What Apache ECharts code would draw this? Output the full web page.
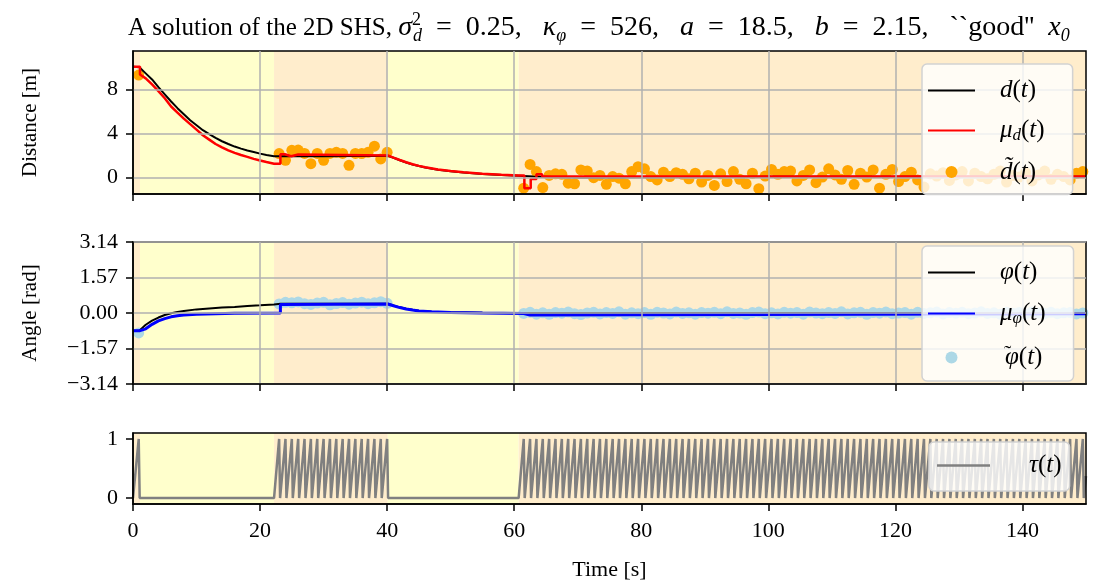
<!DOCTYPE html>
<html><head><meta charset="utf-8">
<script src="https://cdn.jsdelivr.net/npm/echarts@6/dist/echarts.min.js"></script>
<style>html,body{margin:0;padding:0;background:#fff}#c{width:1094px;height:585px}</style>
</head><body><div id="c"></div>
<script>
// ---------------- data ----------------
const xTicks = [0, 20, 40, 60, 80, 100, 120, 140];
const dTicks = [0, 4, 8];
const phiTicks = [-3.14, -1.57, 0, 1.57, 3.14];
const tauTicks = [0, 1];

// background phases: boundaries and kind (o = orange, y = yellow)
const phaseBounds = [0, 1.1, 22.2, 40.1, 60.7, 150];
const phaseKinds = ['o', 'y', 'o', 'y', 'o'];

// true distance d(t)
const dTrue = [[0,10.05],[1,10.0],[2,9.45],[3,8.9],[4,8.2],[5,7.55],[6,6.9],[7,6.3],[8,5.75],[9,5.2],[10,4.75],[11,4.3],[12,3.95],[13,3.6],[14,3.3],[15,3.05],[16,2.82],[17,2.63],[18,2.46],[19,2.32],[20,2.18],[21,2.06],[22.2,1.94],[25,1.93],[30,1.95],[35,1.97],[40.1,1.98],[41,1.8],[42,1.58],[43,1.38],[44,1.2],[45,1.05],[46,0.92],[48,0.72],[50,0.58],[52,0.47],[55,0.34],[58,0.24],[60.7,0.17],[63,0.1],[66,0.05],[70,0.02],[75,0.01],[80,0.03],[90,0.06],[100,0.08],[120,0.09],[150,0.09]];
// estimate mu_d(t)
const dEst = [[0,10.05],[1.1,10.05],[1.1,9.35],[2,9.0],[3,8.45],[4,7.85],[5,7.2],[6,6.45],[7,5.9],[8,5.35],[9,4.85],[10,4.35],[11,3.85],[12,3.45],[13,3.05],[14,2.75],[15,2.48],[16,2.25],[17,2.05],[18,1.88],[19,1.7],[20,1.55],[21,1.42],[22.2,1.27],[23.2,1.27],[23.2,2.12],[23.9,2.12],[23.9,1.94],[24.9,1.94],[24.9,2.1],[26,2.1],[26,2.02],[40.1,2.02],[41,1.82],[42,1.6],[43,1.4],[44,1.22],[45,1.07],[46,0.94],[48,0.74],[50,0.6],[52,0.49],[55,0.36],[58,0.26],[60.7,0.2],[61.6,0.2],[61.6,-0.97],[62.6,-0.97],[62.6,-0.12],[63.5,-0.12],[63.5,0.31],[64.4,0.31],[64.4,0.1],[150,0.1]];
// true angle phi(t)
const phiTrue = [[0,-0.78],[1,-0.78],[2,-0.52],[3,-0.34],[4,-0.2],[5,-0.09],[6,-0.01],[7,0.05],[8,0.09],[10,0.16],[12,0.2],[14,0.24],[16,0.27],[18,0.31],[20,0.34],[22.2,0.38],[23.2,0.41],[30,0.41],[35,0.41],[40.1,0.41],[41,0.33],[42,0.25],[43,0.19],[44,0.14],[45,0.1],[47,0.06],[50,0.03],[55,0.01],[60,0.0],[150,-0.02]];
// estimate mu_phi(t)
const phiEst = [[0,-0.78],[1.1,-0.78],[1.1,-0.85],[2,-0.7],[3,-0.5],[4,-0.35],[5,-0.25],[6,-0.17],[7,-0.12],[8,-0.09],[10,-0.05],[13,-0.03],[16,-0.015],[23.2,0.0],[23.2,0.38],[40.1,0.4],[41,0.32],[42,0.24],[43,0.18],[44,0.13],[45,0.09],[47,0.05],[50,0.02],[55,0.0],[61.5,-0.02],[61.5,-0.09],[62.5,-0.09],[62.5,-0.03],[150,-0.03]];

// measurement instants (tau resets)
const measTimes = [0.9,
 23,24,25,26,27,28,29,30,31,32,33,34,35,36,37,38,39,40,
 61.5,62.5,63.5,64.5,65.5,66.5,67.5,68.5,69.5,70.5,71.5,72.5,73.5,74.5,75.5,76.5,77.5,78.5,79.5,80.5,
 81.5,82.5,83.5,84.5,85.5,86.5,87.5,88.5,89.5,90.5,91.5,92.5,93.5,94.5,95.5,96.5,97.5,98.5,99.5,100.5,
 101.5,102.5,103.5,104.5,105.5,106.5,107.5,108.5,109.5,110.5,111.5,112.5,113.5,114.5,115.5,116.5,117.5,118.5,119.5,120.5,
 121.5,122.5,123.5,124.5,125.5,126.5,127.5,128.5,129.5,130.5,131.5,132.5,133.5,134.5,135.5,136.5,137.5,138.5,139.5,140.5,
 141.5,142.5,143.5,144.5,145.5,146.5,147.5,148.5,149.5];
// measured distance d~(t)
const dMeas = [9.3,
 2.18,1.57,2.48,2.5,2.2,1.27,2.2,1.57,2.2,2.3,2.2,1.12,2.2,2.18,2.3,2.85,1.7,2.3,
 -0.95,1.20,0.55,-0.90,0.20,0.35,0.30,-0.50,-0.55,0.70,
 0.60,0.00,0.20,-0.60,0.10,-0.05,-0.55,0.55,1.00,0.80,
 0.10,-0.20,0.50,0.10,0.45,0.30,-0.10,0.40,-0.40,0.20,
 -0.70,0.35,-0.35,0.55,-0.15,-0.55,0.40,-1.00,0.15,0.75,
 0.30,0.55,0.60,-0.30,0.20,0.70,-0.45,0.05,0.80,0.25,
 -0.15,0.65,-0.60,0.40,0.05,0.70,-0.95,0.30,0.75,-0.35,
 0.10,0.50,-0.20,-0.85,0.35,0.15,0.45,-0.25,0.25,0.55,
 -0.30,0.40,0.10,-0.10,0.30,0.60,-0.40,0.20,0.05,0.45,
 -0.30,0.25,0.60,-0.15,0.30,0.10,-0.20,0.40,0.55];
// measured angle phi~(t)
const phiMeas = [-0.88,
 0.40,0.47,0.45,0.49,0.41,0.38,0.44,0.47,0.36,0.42,0.46,0.39,0.44,0.48,0.41,0.45,0.50,0.43,
 -0.02,0.03,-0.05,0.01,-0.06,0.02,-0.01,0.04,-0.03,-0.07,
 0.00,0.03,-0.04,0.02,-0.02,0.05,-0.05,0.01,-0.03,0.02,
 -0.06,0.03,0.00,-0.04,0.04,-0.02,0.01,-0.05,0.02,-0.01,
 0.03,-0.03,0.05,-0.02,0.00,-0.06,0.02,0.04,-0.03,0.01,
 -0.04,0.03,-0.01,0.02,-0.05,0.04,0.00,-0.03,0.02,-0.02,
 0.05,-0.04,0.01,0.03,-0.06,0.02,-0.01,0.04,-0.03,0.00,
 0.02,-0.05,0.03,-0.02,0.01,0.04,-0.04,0.02,-0.01,0.03,
 -0.03,0.00,0.05,-0.02,0.01,-0.05,0.03,-0.01,0.02,-0.04,
 0.04,0.00,-0.02,0.03,-0.03,0.01,0.02,-0.04,0.00];
// tau(t): segment start times (tau leaves 0), reset duration, value at the right edge
const tauStarts = [0, 22.2, 60.7];
const tauResetDur = 0.15;
const tauEnd = [150, 0.37];

// ---------------- build ----------------
const FONT = "'Liberation Serif','DejaVu Serif',serif";
const YEL = '#FFFFCC', ORA = '#FFEDCC';

const tauData = [];
{
  let si = 0;
  measTimes.forEach(function (p) {
    while (si < tauStarts.length && tauStarts[si] < p) { tauData.push([tauStarts[si], 0]); si++; }
    tauData.push([p, 1]);
    tauData.push([+(p + tauResetDur).toFixed(2), 0]);
  });
  tauData.push(tauEnd);
}
const dScatter = measTimes.map((t, i) => [t, dMeas[i]]);
const phiScatter = measTimes.map((t, i) => [t, phiMeas[i]]);

const areas = phaseKinds.map((k, i) => [
  { xAxis: phaseBounds[i], itemStyle: { color: k === 'o' ? ORA : YEL } },
  { xAxis: phaseBounds[i + 1] }
]);

const fmtMinus = v => (Math.abs(v) < 1e-9 ? '0.00' : (v < 0 ? '\u2212' + (-v).toFixed(2) : v.toFixed(2)));
const fmtInt = v => (v < 0 ? '\u2212' + (-v) : '' + v);

const grids = [
  { left: 133, width: 953, top: 51, height: 143 },
  { left: 133, width: 953, top: 242, height: 142 },
  { left: 133, width: 953, top: 433, height: 71 }
].map(g => Object.assign(g, { show: true, borderColor: '#000', borderWidth: 1.5, backgroundColor: 'rgba(0,0,0,0)', z: 5 }));

const axisLine = { show: true, onZero: false, lineStyle: { color: '#000', width: 1.5 } };
const tick = (vals) => ({ show: true, customValues: vals, length: 7, inside: false, lineStyle: { color: '#000', width: 1.5 } });
const labelStyle = { color: '#000', fontFamily: FONT, fontSize: 22 };

const xAxes = [0, 1, 2].map(i => ({
  type: 'value', gridIndex: i, min: 0, max: 150, z: 6,
  axisLine: axisLine, axisTick: tick(xTicks),
  axisLabel: Object.assign({ show: i === 2, customValues: xTicks, margin: 16 }, labelStyle),
  splitLine: { show: false },
  name: i === 2 ? 'Time [s]' : '', nameLocation: 'middle', nameGap: 55,
  nameTextStyle: labelStyle
}));

const yDefs = [
  { gridIndex: 0, min: -1.48, max: 11.48, ticks: dTicks, fmt: fmtInt, grid: true, name: 'Distance [m]' },
  { gridIndex: 1, min: -3.14, max: 3.14, ticks: phiTicks, fmt: fmtMinus, grid: true, name: 'Angle [rad]' },
  { gridIndex: 2, min: -0.1, max: 1.1, ticks: tauTicks, fmt: fmtInt, grid: false, name: '' }
];
const yAxes = yDefs.map(a => ({
  type: 'value', gridIndex: a.gridIndex, min: a.min, max: a.max, z: 6,
  axisLine: axisLine, axisTick: tick(a.ticks),
  axisLabel: Object.assign({ customValues: a.ticks, formatter: a.fmt, margin: 15 }, labelStyle),
  splitLine: { show: false },
  name: a.name, nameLocation: 'middle', nameRotate: 90, nameGap: 92,
  nameTextStyle: { color: '#000', fontFamily: FONT, fontSize: 21 }
}));

const bg = i => ({
  type: 'line', xAxisIndex: i, yAxisIndex: i, data: [], z: 0, silent: true,
  markArea: { silent: true, data: areas }
});
const gridLines = i => ({
  type: 'line', xAxisIndex: i, yAxisIndex: i, data: [], z: 1, silent: true,
  markLine: {
    silent: true, symbol: ['none', 'none'], label: { show: false }, animation: false,
    lineStyle: { color: '#b0b0b0', width: 1.5, type: 'solid' },
    data: xTicks.filter(v => v > 0).map(v => ({ xAxis: v })).concat(yDefs[i].ticks.map(v => ({ yAxis: v })))
  }
});
const line = (i, name, data, color, width, z) => ({
  type: 'line', name: name, xAxisIndex: i, yAxisIndex: i, data: data,
  showSymbol: false, symbol: 'none', color: color, z: z,
  lineStyle: { color: color, width: width }, animation: false
});
const scat = (i, name, data, color) => ({
  type: 'scatter', name: name, xAxisIndex: i, yAxisIndex: i, data: data,
  symbolSize: 11, itemStyle: { color: color, opacity: 1 }, z: 2, animation: false
});

const LINEICON = 'path://M0,0L47,0L47,2.2L0,2.2Z';
const it = { fontFamily: FONT, fontStyle: 'italic', fontSize: 25, color: '#000', lineHeight: 28 };
const legRich = {
  i: it,
  i0: Object.assign({}, it, { padding: [0, 0, 0, 20] }),
  i1: Object.assign({}, it, { padding: [0, 0, 0, 34] }),
  r: { fontFamily: FONT, fontSize: 25, color: '#000', lineHeight: 28 },
  s: { fontFamily: FONT, fontStyle: 'italic', fontSize: 17, color: '#000', lineHeight: 14, verticalAlign: 'bottom' },
  tl: { fontFamily: FONT, fontSize: 22, color: '#000', lineHeight: 14, verticalAlign: 'top', width: 1, padding: [0, 0, 0, 24] }
};
const legendLabels = {
  'd': '{i0|d}{r|(}{i|t}{r|)}',
  'mud': '{i0|μ}{s|d}{r|(}{i|t}{r|)}',
  'dm': '{i0|d\u0303}{r|(}{i|t}{r|)}',
  'phi': '{i0|φ}{r|(}{i|t}{r|)}',
  'muphi': '{i0|μ}{s|φ}{r|(}{i|t}{r|)}',
  'phim': '{tl|\u02DC}{i|φ}{r|(}{i|t}{r|)}',
  'tau': '{i1|τ}{r|(}{i|t}{r|)}'
};
const legend = (left, top, items, pad, gap, iw) => ({
  orient: 'vertical', left: left, top: top, selectedMode: false,
  data: items, itemWidth: iw, itemHeight: 12, itemGap: gap,
  padding: pad, backgroundColor: 'rgba(255,255,255,0.8)', borderColor: '#d2d2d2',
  borderWidth: 1.5, borderRadius: 5, z: 10,
  formatter: n => legendLabels[n],
  textStyle: { rich: legRich }
});

const tr = { fontFamily: FONT, fontWeight: 'normal', color: '#000' };
const titleRich = {
  r: Object.assign({ fontSize: 25, lineHeight: 34 }, tr),
  m: Object.assign({ fontSize: 28, lineHeight: 34 }, tr),
  i: Object.assign({ fontSize: 28, lineHeight: 34, fontStyle: 'italic' }, tr),
  sup: Object.assign({ fontSize: 18, lineHeight: 22, verticalAlign: 'top', width: 1 }, tr),
  sub: Object.assign({ fontSize: 18, lineHeight: 16, verticalAlign: 'bottom', fontStyle: 'italic' }, tr)
};

const option = {
  animation: false,
  backgroundColor: '#fff',
  title: {
    left: 128, top: 11, padding: 0,
    text: "{r|A solution of the 2D SHS, }{i|σ}{sup|2}{sub|d}{m|  =  0.25,   }{i|κ}{sub|φ}{m|  =  526,   }{i|a}{m|  =  18.5,   }{i|b}{m|  =  2.15,   ``good''  }{i|x}{sub|0}",
    textStyle: { fontWeight: 'normal', fontFamily: FONT, rich: titleRich }
  },
  grid: grids,
  xAxis: xAxes,
  yAxis: yAxes,
  legend: [
    legend(922, 64, [{ name: 'd', icon: LINEICON }, { name: 'mud', icon: LINEICON }, { name: 'dm', icon: 'circle' }], [14, 28, 10, 6], 15, 47),
    legend(922, 246, [{ name: 'phi', icon: LINEICON }, { name: 'muphi', icon: LINEICON }, { name: 'phim', icon: 'circle' }], [14, 28, 11, 6], 16, 47),
    legend(929, 442, [{ name: 'tau', icon: LINEICON }], [11, 8, 13, 8], 10, 53)
  ],
  series: [
    bg(0), bg(1), bg(2),
    gridLines(0), gridLines(1),
    scat(0, 'dm', dScatter, '#FFA500'),
    line(0, 'd', dTrue, '#000000', 2, 3),
    line(0, 'mud', dEst, '#FF0000', 2.5, 4),
    scat(1, 'phim', phiScatter, '#ADD8E6'),
    line(1, 'phi', phiTrue, '#000000', 2, 3),
    line(1, 'muphi', phiEst, '#0000FF', 3, 4),
    line(2, 'tau', tauData, '#808080', 2.5, 3)
  ]
};

const chart = echarts.init(document.getElementById('c'), null, { renderer: 'canvas' });
chart.setOption(option);
</script></body></html>
